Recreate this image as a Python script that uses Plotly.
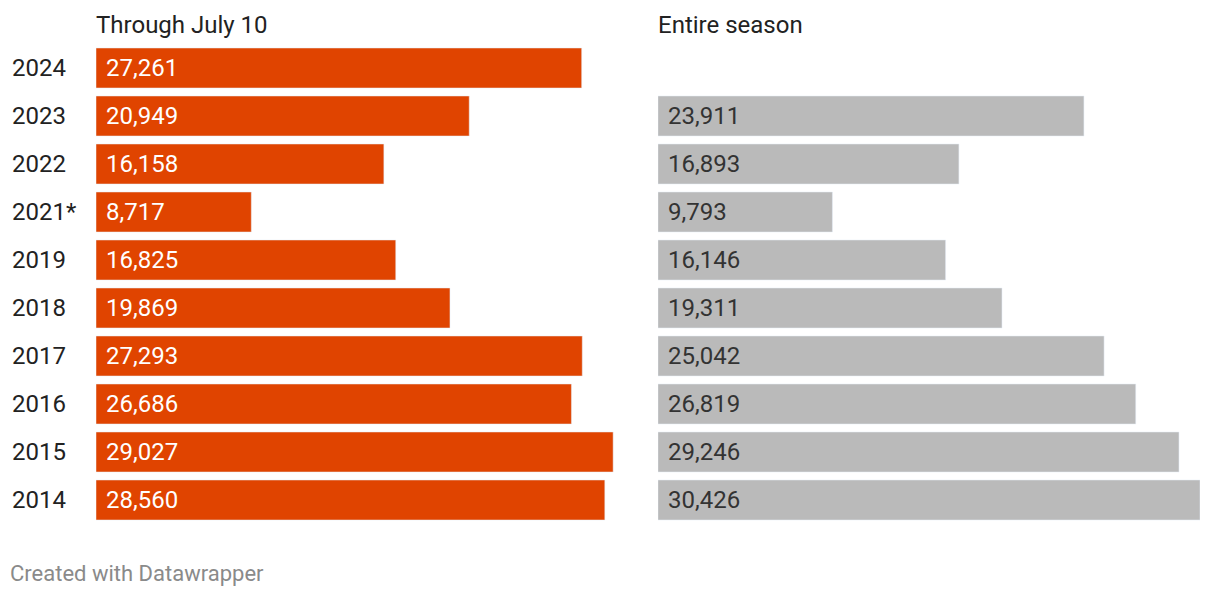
import plotly.graph_objects as go

years = ["2024", "2023", "2022", "2021*", "2019", "2018", "2017", "2016", "2015", "2014"]
through_july10 = [27261, 20949, 16158, 8717, 16825, 19869, 27293, 26686, 29027, 28560]
entire_season = [None, 23911, 16893, 9793, 16146, 19311, 25042, 26819, 29246, 30426]

ORANGE = "#e04400"
GRAY = "#bababa"
FONT = "Roboto"
FS = 24

fig = go.Figure()
fig.add_trace(go.Bar(y=years, x=through_july10, orientation="h", marker_color=ORANGE,
                     xaxis="x", yaxis="y", hoverinfo="skip"))
fig.add_trace(go.Bar(y=years, x=entire_season, orientation="h", marker_color=GRAY,
                     xaxis="x2", yaxis="y", hoverinfo="skip"))

ann = []
for i, v in enumerate(through_july10):
    ann.append(dict(x=0, y=i, xref="x", yref="y", text=f"{v:,}", showarrow=False,
                    xanchor="left", xshift=8, font=dict(family=FONT, size=FS, color="white")))
for i, v in enumerate(entire_season):
    if v is not None:
        ann.append(dict(x=0, y=i, xref="x2", yref="y", text=f"{v:,}", showarrow=False,
                        xanchor="left", xshift=8, font=dict(family=FONT, size=FS, color="#333333")))
for i, yr in enumerate(years):
    ann.append(dict(x=0, y=i, xref="paper", yref="y", text=yr, showarrow=False,
                    xanchor="left", xshift=-86, font=dict(family=FONT, size=FS, color="#222222")))
ann.append(dict(x=0, y=1, xref="paper", yref="paper", yshift=3, text="Through July 10",
                showarrow=False, xanchor="left", yanchor="bottom", xshift=-2,
                font=dict(family=FONT, size=FS, color="#222222")))
ann.append(dict(x=0.509, y=1, xref="paper", yref="paper", yshift=3, text="Entire season",
                showarrow=False, xanchor="left", yanchor="bottom", xshift=-2,
                font=dict(family=FONT, size=FS, color="#222222")))
ann.append(dict(x=0, y=0, xref="paper", yref="paper", xshift=-88, yshift=-64,
                text="Created with Datawrapper", showarrow=False, xanchor="left", yanchor="bottom",
                font=dict(family=FONT, size=22, color="#8a8a8a")))

fig.update_layout(
    width=1204, height=580,
    margin=dict(l=88, r=12, t=36, b=64),
    plot_bgcolor="white", paper_bgcolor="white",
    showlegend=False, bargap=1/6,
    xaxis=dict(domain=[0, 0.491], range=[0, 30426], visible=False, fixedrange=True),
    xaxis2=dict(domain=[0.509, 1], range=[0, 30426], visible=False, fixedrange=True),
    yaxis=dict(type="category", range=[len(years) - 0.5, -0.5], autorange=False,
               categoryorder="array", categoryarray=years, visible=False, fixedrange=True),
    annotations=ann,
    font=dict(family=FONT),
)

fig.write_html("out.html")
